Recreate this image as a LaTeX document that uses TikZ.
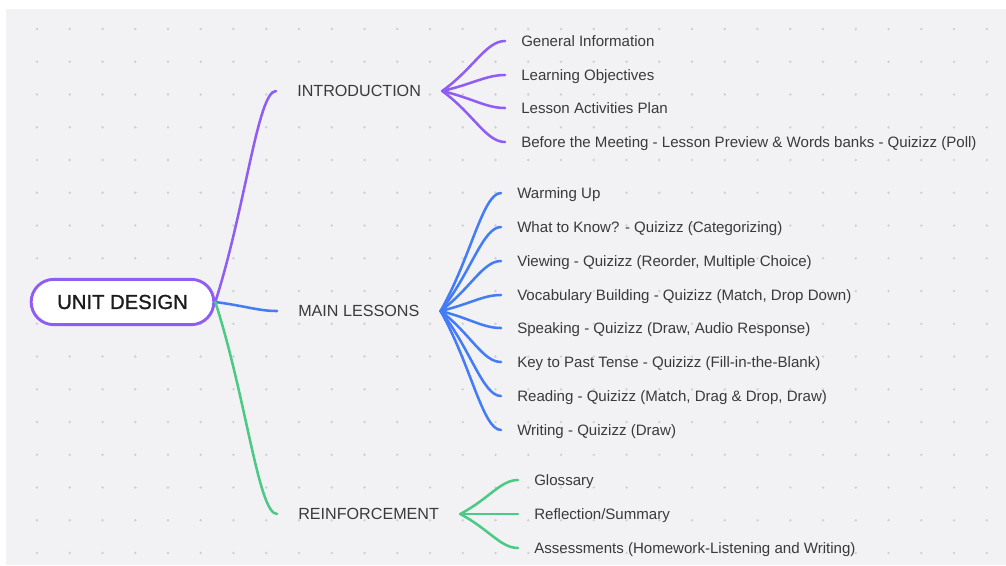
\documentclass[tikz,border=0pt]{standalone}
\usepackage{fontspec}
\setmainfont{Liberation Sans}
\usetikzlibrary{calc}

\definecolor{canvas}{HTML}{F2F2F5}
\definecolor{griddot}{HTML}{CFCFD5}
\definecolor{mmPurple}{HTML}{8F5DF3}
\definecolor{mmBlue}{HTML}{437CF4}
\definecolor{mmGreen}{HTML}{4BC985}
\definecolor{leafink}{HTML}{3A3A3C}
\definecolor{rootink}{HTML}{1C1C1E}

% smooth mind-map connector: a steep, almost straight run that curls
% into a horizontal landing at its end
\newcommand\mmlink[3]{%
  \draw[link,#1] let \p1=(#2), \p2=(#3) in
    (\p1) .. controls ({\x1+0.5*(\x2-\x1)},{\y1+0.45*(\y2-\y1)})
             and ({\x2-0.3*(\x2-\x1)},\y2) .. (\p2);}

\begin{document}
\begin{tikzpicture}[x=0.75pt,y=-0.75pt,
  link/.style={line width=1.9pt,line cap=round},
  rootbox/.style={draw=mmPurple,line width=2.2pt,fill=white,rounded corners=17pt,
    minimum width=137pt,minimum height=34pt,inner sep=0pt,
    font=\fontsize{15.2}{18}\selectfont\addfontfeature{FakeBold=1.2},text=rootink},
  section/.style={anchor=west,inner xsep=15.75pt,inner ysep=2pt,
    text height=11pt,text depth=2.3pt,
    font=\fontsize{12.1}{14}\selectfont,text=leafink},
  leaf/.style={anchor=west,inner xsep=12pt,inner ysep=2pt,
    text height=10pt,text depth=2.2pt,
    font=\fontsize{11.3}{13}\selectfont,text=leafink}]

% canvas with its dot grid
\useasboundingbox (0,0) rectangle (1006,565);
\fill[white] (0,0) rectangle (1006,565);
\fill[canvas] (6,9) rectangle (1006,565);
\foreach \i in {0,...,29}
  \foreach \j in {0,...,16}
    \fill[griddot] ({37+32.75*\i},{29+32.75*\j}) circle (0.95pt);

% central topic
\node[rootbox] (root) at (122.5,302) {UNIT DESIGN};

% main topics
\node[section] (intro) at (276,91) {INTRODUCTION};
\node[section] (main)  at (277,311) {MAIN LESSONS};
\node[section] (reinf) at (277,514) {REINFORCEMENT};

% introduction items
\node[leaf] (i1) at (505,41)  {General Information};
\node[leaf] (i2) at (505,75)  {Learning Objectives};
\node[leaf] (i3) at (505,108) {Lesson Activities Plan};
\node[leaf] (i4) at (505,142) {Before the Meeting - Lesson Preview \& Words banks - Quizizz (Poll)};

% main lesson items
\node[leaf] (m1) at (501,193) {Warming Up};
\node[leaf] (m2) at (501,227) {What to Know? - Quizizz (Categorizing)};
\node[leaf] (m3) at (501,261) {Viewing - Quizizz (Reorder, Multiple Choice)};
\node[leaf] (m4) at (501,295) {Vocabulary Building - Quizizz (Match, Drop Down)};
\node[leaf] (m5) at (501,328) {Speaking - Quizizz (Draw, Audio Response)};
\node[leaf] (m6) at (501,362) {Key to Past Tense - Quizizz (Fill-in-the-Blank)};
\node[leaf] (m7) at (501,396) {Reading - Quizizz (Match, Drag \& Drop, Draw)};
\node[leaf] (m8) at (501,430) {Writing - Quizizz (Draw)};

% reinforcement items
\node[leaf] (r1) at (518,480) {Glossary};
\node[leaf] (r2) at (518,514) {Reflection/Summary};
\node[leaf] (r3) at (518,548) {Assessments (Homework-Listening and Writing)};

% connectors from the central topic
\mmlink{mmPurple}{root.east}{intro.west}
\mmlink{mmBlue}{root.east}{main.west}
\mmlink{mmGreen}{root.east}{reinf.west}

% fans to the items
\foreach \leafname in {i1,i2,i3,i4} {\mmlink{mmPurple}{intro.east}{\leafname.west}}
\foreach \leafname in {m1,m2,m3,m4,m5,m6,m7,m8} {\mmlink{mmBlue}{main.east}{\leafname.west}}
\foreach \leafname in {r1,r2,r3} {\mmlink{mmGreen}{reinf.east}{\leafname.west}}

\end{tikzpicture}
\end{document}
